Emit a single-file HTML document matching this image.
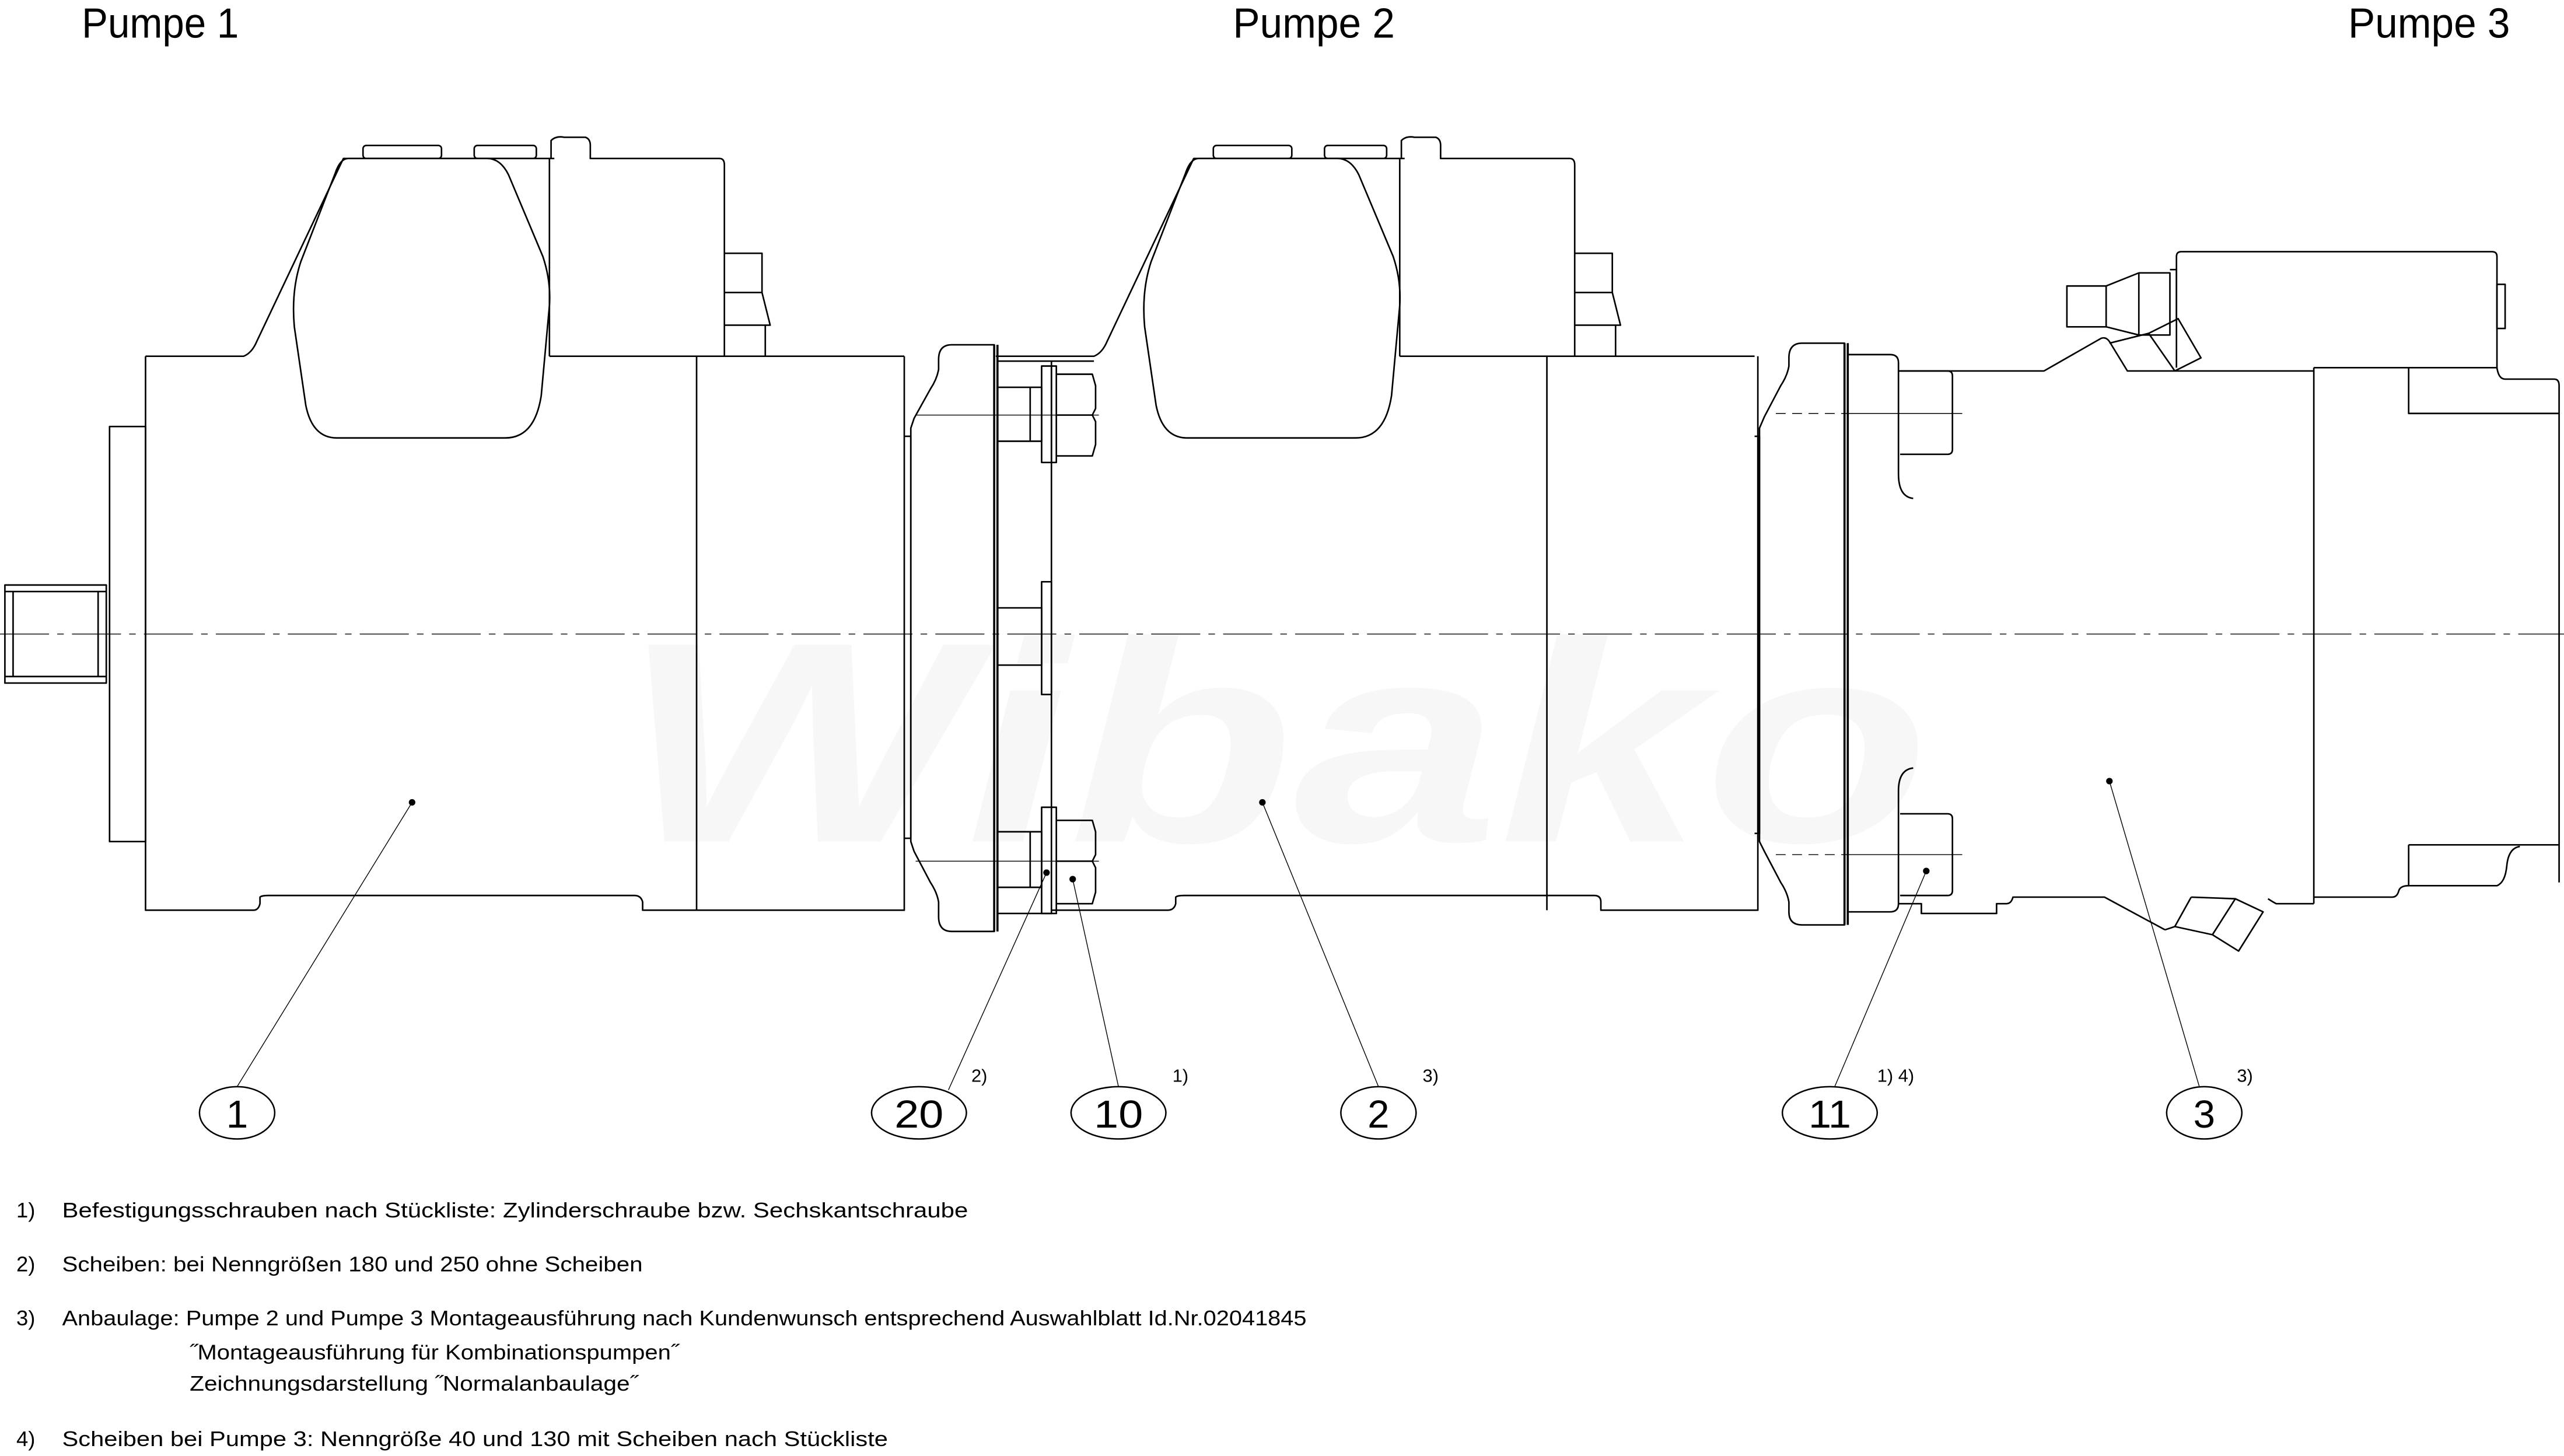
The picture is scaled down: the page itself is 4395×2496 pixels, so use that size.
<!DOCTYPE html>
<html><head><meta charset="utf-8"><style>
html,body{margin:0;padding:0;background:#fff;}
svg{display:block;}
text{font-family:"Liberation Sans","DejaVu Sans",sans-serif;fill:#000;}
</style></head><body>
<svg width="4395" height="2496" viewBox="0 0 1568 891" preserveAspectRatio="none" xmlns="http://www.w3.org/2000/svg">
<!-- watermark -->
<text x="380" y="515" font-size="175" font-weight="bold" font-style="italic" style="fill:#f7f7f7" textLength="800" lengthAdjust="spacingAndGlyphs">Wibako</text>

<g fill="none" stroke="#000" stroke-width="0.95" stroke-linejoin="round">
<g id="top">
 <path d="M89,218 H149 Q154,216 157,209 L210,97 H339"/>
 <rect x="222" y="89" width="48" height="8" rx="2"/>
 <rect x="290" y="89" width="38" height="8" rx="2"/>
 <path d="M213,97 H298 Q306,97 311,107 L332,157 Q337,172 336,187 L331,242 Q327,268 309,268 H206 Q191,268 187,248 L180,200 Q178,178 184,160 L205,106 Q208,97 213,97 Z"/>
 <path d="M336,218 V97 H337 V86 Q340,83 345,84 H358 Q361,85 361,89 V97 H440 Q443,97 443,101 V218"/>
 <path d="M443,155 H466 V179 H443 M466,179 L471,199 H443 M468,199 V218"/>
 <path d="M336,218 H553 M426,218 V557"/>
</g>
<use href="#top" transform="translate(520,0)"/>

<!-- pump 1 body -->
<path d="M89,218 V557 H155 Q158,557 159,553 V549 Q160,548 164,548 H388 Q392,548 393,552 V557 H553 V218"/>
<rect x="67" y="261" width="22" height="254"/>
<rect x="3" y="358" width="62" height="60"/>
<path d="M8,362 V414 M60,362 V414 M3,362 H65 M3,414 H65"/>

<!-- pump 2 flange & plate -->
<path d="M553,267 H557 V513 H553"/>
<path d="M608,211 H582 Q574,211 574,220 V226 Q573,232 569,238 L559,256 L557,262 V515 L559,521 L569,540 Q573,546 574,552 V561 Q574,570 582,570 H608 Z"/>
<path d="M608,211 V570 M610,211 V570" stroke-width="1.3"/>
<path d="M610,221 H643 V559 H610"/>
<rect x="610" y="237" width="27" height="33"/>
<path d="M630,237 V270"/>
<rect x="637" y="224" width="9" height="59"/>
<path d="M643,224 V283"/>
<path d="M646,229 H668 L670,236 V250 L668,254 L670,258 V272 L668,279 H646 M646,254 H668"/>
<rect x="610" y="372" width="27" height="35"/>
<rect x="637" y="356" width="6" height="69"/>
<rect x="610" y="509" width="27" height="34"/>
<path d="M630,509 V543"/>
<rect x="637" y="494" width="9" height="65"/>
<path d="M646,502 H668 L670,509 V523 L668,527 L670,531 V546 L668,553 H646 M646,527 H668"/>
<path d="M643,221 H669 M643,557 H714 Q718,557 719,553 V549 Q720,548 724,548 H975 Q979,548 979,552 V557 H1075 V218"/>

<!-- pump 3 -->
<path d="M1073,267 H1076 V510 H1073"/>
<path d="M1128,210 H1102 Q1094,210 1094,219 V224 Q1093,230 1089,236 L1079,255 L1076,262 V515 L1079,521 L1089,540 Q1093,546 1094,552 V558 Q1094,566 1102,566 H1128 Z"/>
<path d="M1128,210 V566 M1130,210 V566" stroke-width="1.3"/>
<path d="M1130,217 H1156 Q1161,217 1161,222 V290 Q1161,304 1170,305"/>
<path d="M1170,470 Q1161,471 1161,484 V553 Q1161,558 1156,558 H1130"/>
<path d="M1161,227 H1250 L1285,207 Q1288,206 1290,209 L1301,227 H1415"/>
<path d="M1162,227 H1191 Q1194,227 1194,230 V275 Q1194,278 1191,278 H1162"/>
<path d="M1162,498 H1191 Q1194,498 1194,501 V545 Q1194,548 1191,548 H1162"/>
<path d="M1161,553 H1175 V559 H1221 V553 H1227 Q1230,553 1231,549 H1287 L1324,569"/>
<path d="M1324,569 L1330,567 L1340,549 M1330,567 L1353,572 L1367,550 L1384,558 L1369,582 L1353,572 M1340,549 L1367,550"/>
<path d="M1387,550 Q1390,552 1392,553 H1415 M1415,225 V553"/>
<path d="M1415,225 H1527 Q1528,232 1532,232 H1562 Q1565,232 1565,236 V540"/>
<path d="M1473,225 V253 H1565 M1473,517 H1565 M1473,517 V542 H1527 Q1532,540 1533,530 Q1534,519 1541,518"/>
<path d="M1415,549 H1463 Q1466,549 1467,545 Q1468,542 1473,542"/>
<path d="M1331,225 V157 Q1331,154 1334,154 H1524 Q1527,154 1527,157 V225"/>
<rect x="1527" y="174" width="5" height="27"/>
<rect x="1264" y="175" width="24" height="25"/>
<path d="M1288,175 L1308,167 V205 L1288,200 M1308,167 H1327 V205 H1308 M1327,165 H1331 V196"/>
<path d="M1290,210 L1314,204 L1330,227 M1314,204 L1332,195 L1346,219 L1330,227"/>

<g stroke-width="0.5">
 <path d="M0,388 H1568" stroke-dasharray="30,5,4,5"/>
 <path d="M560,254 H672 M560,527 H672"/>
 <path d="M1086,253 H1126" stroke-dasharray="6,4"/>
 <path d="M1126,253 H1200"/>
 <path d="M1086,523 H1126" stroke-dasharray="6,4"/>
 <path d="M1126,523 H1200"/>
</g>

<g stroke-width="0.5">
 <path d="M252,491 L145,665"/>
 <path d="M640,534 L580,667"/>
 <path d="M656,538 L684,665"/>
 <path d="M772,491 L843,665"/>
 <path d="M1178,533 L1122,665"/>
 <path d="M1290,478 L1345,665"/>
</g>
<g stroke-width="0.9">
 <ellipse cx="145" cy="681" rx="23" ry="16"/>
 <ellipse cx="562" cy="681" rx="29" ry="16"/>
 <ellipse cx="684" cy="681" rx="29" ry="16"/>
 <ellipse cx="843" cy="681" rx="23" ry="16"/>
 <ellipse cx="1119" cy="681" rx="29" ry="16"/>
 <ellipse cx="1348" cy="681" rx="23" ry="16"/>
</g>
</g>
<g fill="#000">
 <circle cx="252" cy="491" r="2"/><circle cx="640" cy="534" r="2"/><circle cx="656" cy="538" r="2"/>
 <circle cx="772" cy="491" r="2"/><circle cx="1178" cy="533" r="2"/><circle cx="1290" cy="478" r="2"/>
</g>

<text x="50" y="23" font-size="26" textLength="96" lengthAdjust="spacingAndGlyphs">Pumpe 1</text>
<text x="754" y="23" font-size="26" textLength="99" lengthAdjust="spacingAndGlyphs">Pumpe 2</text>
<text x="1436" y="23" font-size="26" textLength="99" lengthAdjust="spacingAndGlyphs">Pumpe 3</text>

<g font-size="24" text-anchor="middle">
 <text x="145" y="690">1</text>
 <text x="562" y="690" textLength="30" lengthAdjust="spacingAndGlyphs">20</text>
 <text x="684" y="690" textLength="30" lengthAdjust="spacingAndGlyphs">10</text>
 <text x="843" y="690">2</text>
 <text x="1119" y="690" textLength="26" lengthAdjust="spacingAndGlyphs">11</text>
 <text x="1348" y="690">3</text>
</g>
<g font-size="11">
 <text x="594" y="662">2)</text>
 <text x="717" y="662">1)</text>
 <text x="870" y="662">3)</text>
 <text x="1148" y="662">1) 4)</text>
 <text x="1368" y="662">3)</text>
</g>

<g font-size="13">
 <text x="10" y="745">1)</text>
 <text x="38" y="745" textLength="554" lengthAdjust="spacingAndGlyphs">Befestigungsschrauben nach Stückliste: Zylinderschraube bzw. Sechskantschraube</text>
 <text x="10" y="778">2)</text>
 <text x="38" y="778" textLength="355" lengthAdjust="spacingAndGlyphs">Scheiben: bei Nenngrößen 180 und 250 ohne Scheiben</text>
 <text x="10" y="811">3)</text>
 <text x="38" y="811" textLength="761" lengthAdjust="spacingAndGlyphs">Anbaulage: Pumpe 2 und Pumpe 3 Montageausführung nach Kundenwunsch entsprechend Auswahlblatt Id.Nr.02041845</text>
 <text x="116" y="832" textLength="299" lengthAdjust="spacingAndGlyphs">˝Montageausführung für Kombinationspumpen˝</text>
 <text x="116" y="851" textLength="274" lengthAdjust="spacingAndGlyphs">Zeichnungsdarstellung ˝Normalanbaulage˝</text>
 <text x="10" y="885">4)</text>
 <text x="38" y="885" textLength="505" lengthAdjust="spacingAndGlyphs">Scheiben bei Pumpe 3: Nenngröße 40 und 130 mit Scheiben nach Stückliste</text>
</g>
</svg>
</body></html>
